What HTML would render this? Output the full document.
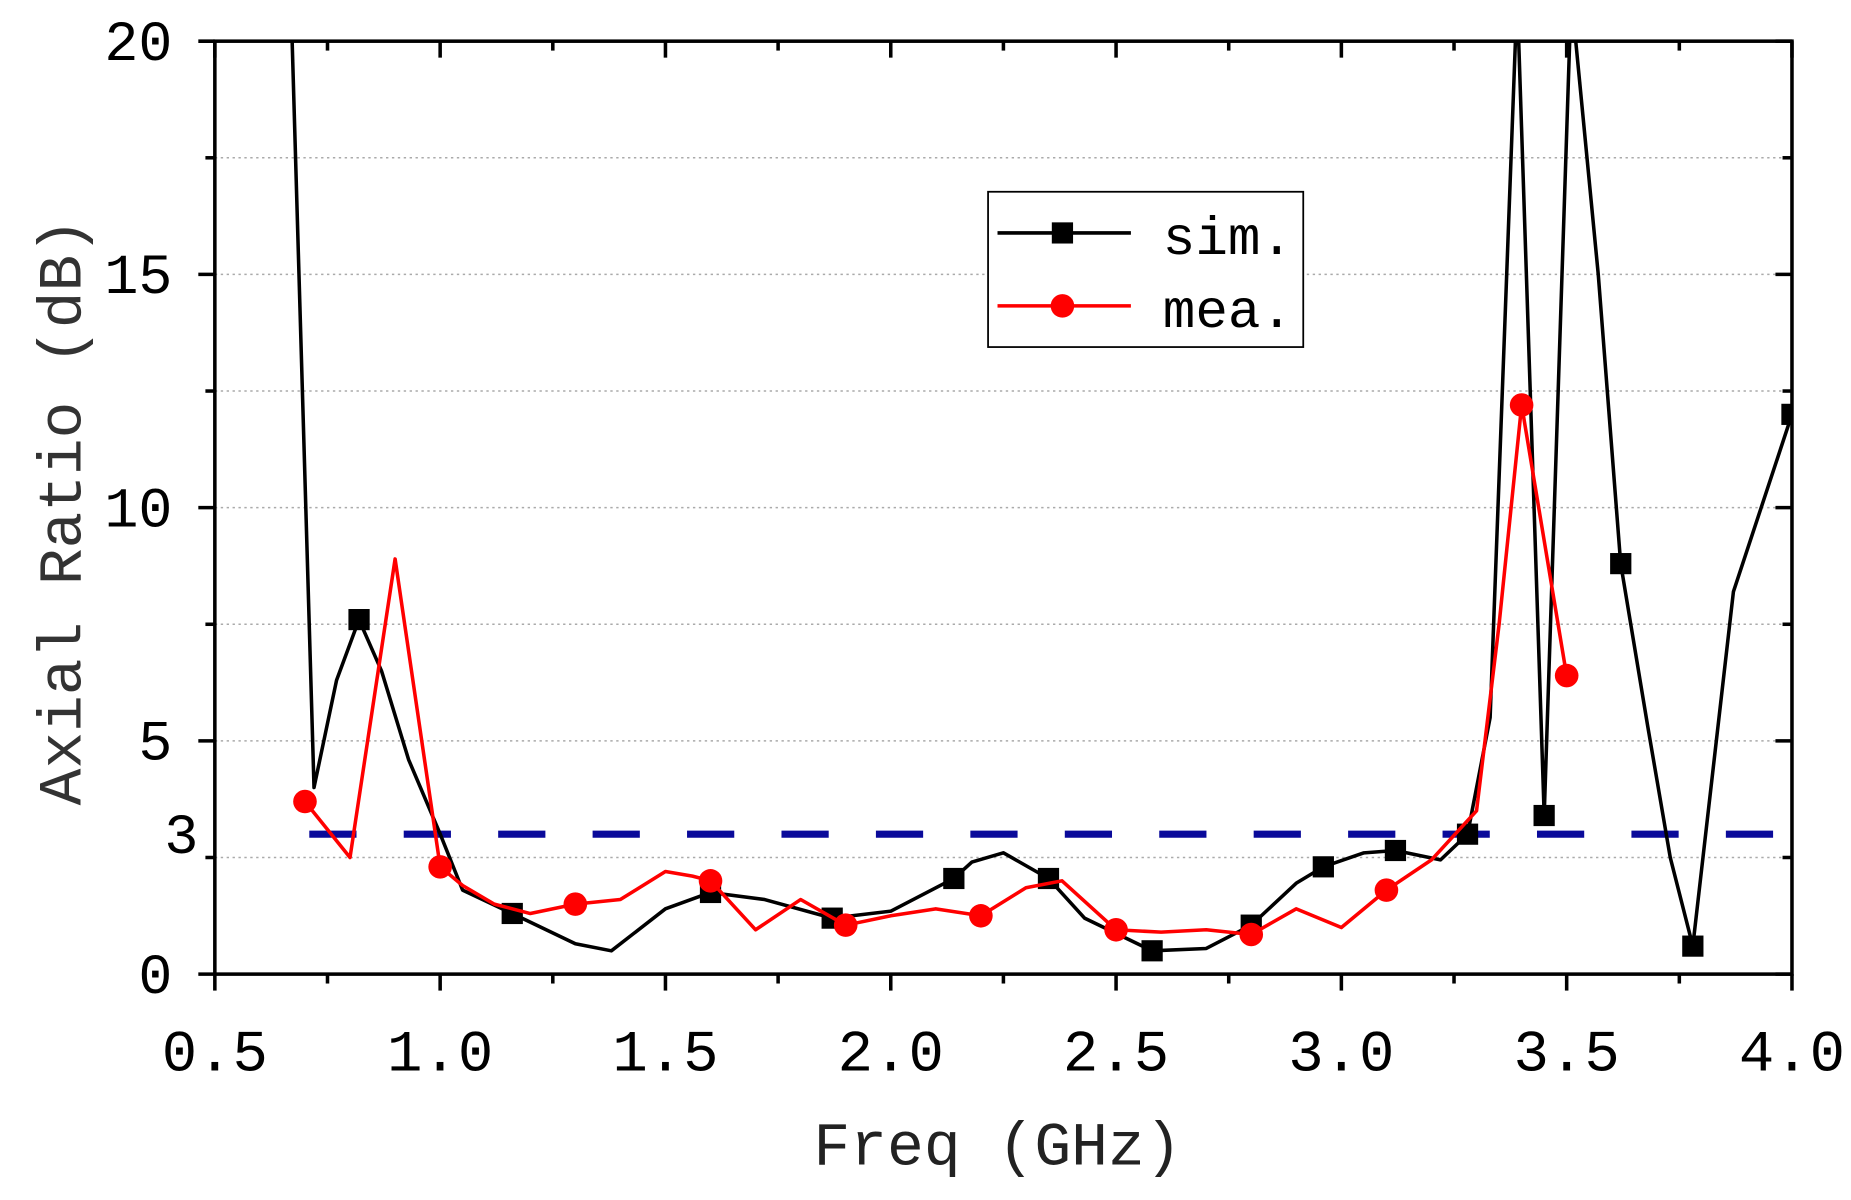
<!DOCTYPE html>
<html><head><meta charset="utf-8"><style>
html,body{margin:0;padding:0;background:#fff;}
svg{display:block;}
text{font-family:"Liberation Mono","Noto Sans CJK SC",monospace;}
</style></head><body>
<svg id="chart" width="1851" height="1200" viewBox="0 0 1568 1020" preserveAspectRatio="none" xmlns="http://www.w3.org/2000/svg">
<defs><clipPath id="plotclip"><rect x="182" y="35" width="1336" height="793"/></clipPath></defs>
<g id="grid"></g>
<g id="series" clip-path="url(#plotclip)"></g>
<g id="axes"></g>
<g id="legend">
  <rect x="837" y="163" width="267" height="132" fill="#fff" stroke="#000" stroke-width="1.5"/>
  <g>
    <line x1="845" y1="198" x2="958" y2="198" stroke="#000" stroke-width="3"/>
    <rect x="891" y="189" width="18" height="18" fill="#000"/>
    <text x="985" y="216" font-size="46" fill="#000">sim.</text>
  </g>
  <g>
    <line x1="845" y1="260" x2="958" y2="260" stroke="#f00" stroke-width="3"/>
    <circle cx="900" cy="260" r="10" fill="#f00"/>
    <text x="985" y="278" font-size="46" fill="#000">mea.</text>
  </g>
</g>
</svg>
<script>
const xTicks=[0.5,1.0,1.5,2.0,2.5,3.0,3.5,4.0];
const xTickLabels=["0.5","1.0","1.5","2.0","2.5","3.0","3.5","4.0"];
const yTicks=[0,5,10,15,20];
const yTickLabels=["0","5","10","15","20"];
const threshold=3;
const simX=[0.67,0.72,0.77,0.82,0.87,0.93,1.0,1.05,1.16,1.3,1.38,1.5,1.6,1.72,1.87,2.0,2.14,2.18,2.25,2.35,2.43,2.58,2.7,2.8,2.9,2.96,3.05,3.12,3.22,3.28,3.33,3.39,3.45,3.51,3.57,3.62,3.68,3.73,3.78,3.87,4.0];
const simY=[20.5,4.0,6.3,7.6,6.5,4.6,3.0,1.8,1.3,0.65,0.5,1.4,1.75,1.6,1.2,1.35,2.05,2.4,2.6,2.05,1.2,0.5,0.55,1.05,1.95,2.3,2.6,2.65,2.45,3.0,5.5,21,3.4,21,15,8.8,5.3,2.5,0.6,8.2,12.0];
const simMarker=[0,0,0,1,0,0,0,0,1,0,0,0,1,0,1,0,1,0,0,1,0,1,0,1,0,1,0,1,0,1,0,0,1,0,0,1,0,0,1,0,1];
const meaX=[0.7,0.8,0.9,1.0,1.05,1.12,1.2,1.3,1.4,1.5,1.56,1.6,1.7,1.8,1.9,2.0,2.1,2.2,2.3,2.38,2.5,2.6,2.7,2.8,2.9,3.0,3.1,3.2,3.3,3.35,3.4,3.5];
const meaY=[3.7,2.5,8.9,2.3,1.9,1.5,1.3,1.5,1.6,2.2,2.1,2.0,0.95,1.6,1.05,1.25,1.4,1.25,1.85,2.0,0.95,0.9,0.95,0.85,1.4,1.0,1.8,2.45,3.5,7.5,12.2,6.4];
const meaMarker=[1,0,0,1,0,0,0,1,0,0,0,1,0,0,1,0,0,1,0,0,1,0,0,1,0,0,1,0,0,0,1,1];

const NS="http://www.w3.org/2000/svg";
const L=182,R=1518,T=35,B=828;
const sx=v=>L+(v-0.5)/(4.0-0.5)*(R-L);
const sy=v=>B-(v/20)*(B-T);
function mk(tag,attrs,parent){const e=document.createElementNS(NS,tag);for(const k in attrs)e.setAttribute(k,attrs[k]);parent.appendChild(e);return e;}
const grid=document.getElementById('grid'),axes=document.getElementById('axes'),series=document.getElementById('series');
// grid
[2.5,5,7.5,10,12.5,15,17.5].forEach(v=>{
  const g=mk('line',{x1:L,x2:R,y1:sy(v),y2:sy(v),stroke:'#aaa','stroke-width':1.3,'stroke-dasharray':'2 3'},grid);
  
  
});
// threshold
const th=mk('line',{x1:222,x2:R-8,y1:sy(threshold),y2:sy(threshold),stroke:'#0a0a9a','stroke-width':6,'stroke-dasharray':'40 40','stroke-dashoffset':40},series);


// series lines
function drawSeries(xs,ys,ms,color,name,square){
  const p=xs.map((x,i)=>(i?'L':'M')+sx(x).toFixed(1)+' '+sy(ys[i]).toFixed(1)).join(' ');
  const path=mk('path',{d:p,fill:'none',stroke:color,'stroke-width':3,'stroke-linejoin':'round'},series);
  
  
  xs.forEach((x,i)=>{ if(!ms[i])return;
    let m;
    if(square){m=mk('rect',{x:sx(x)-9,y:sy(ys[i])-9,width:18,height:18,fill:color},series);}
    else{m=mk('circle',{cx:sx(x),cy:sy(ys[i]),r:10,fill:color},series);}
    
    
  });
}
drawSeries(simX,simY,simMarker,'#000','sim',true);
drawSeries(meaX,meaY,meaMarker,'#f00','mea',false);
// frame
const fr=mk('rect',{x:L,y:T,width:R-L,height:B-T,fill:'none',stroke:'#000','stroke-width':3},axes);


// x ticks
for(let v=0.5;v<=4.001;v+=0.25){
  const major=Math.abs(v*2-Math.round(v*2))<1e-6;
  const len=major?14:8;
  mk('line',{x1:sx(v),x2:sx(v),y1:B,y2:B+len,stroke:'#000','stroke-width':3},axes);
  mk('line',{x1:sx(v),x2:sx(v),y1:T,y2:T+len,stroke:'#000','stroke-width':3},axes);
}
xTicks.forEach((v,i)=>{
  const t=mk('text',{x:sx(v),y:910,'font-size':50,'text-anchor':'middle',fill:'#000'},axes);
  t.textContent=xTickLabels[i];
  
  
});
// y ticks
for(let v=0;v<=20.001;v+=2.5){
  const major=Math.abs(v/5-Math.round(v/5))<1e-6;
  const len=major?14:8;
  mk('line',{x1:L-len,x2:L,y1:sy(v),y2:sy(v),stroke:'#000','stroke-width':3},axes);
  mk('line',{x1:R-len,x2:R,y1:sy(v),y2:sy(v),stroke:'#000','stroke-width':3},axes);
}
yTicks.forEach((v,i)=>{
  const t=mk('text',{x:146,y:sy(v)+16,'font-size':48,'text-anchor':'end',fill:'#000'},axes);
  t.textContent=yTickLabels[i];
  
  
});
const t3=mk('text',{x:168,y:sy(threshold)+16,'font-size':48,'text-anchor':'end',fill:'#000'},axes);
t3.textContent='3';


// titles
const xt=mk('text',{x:845,y:990,'font-size':52,'text-anchor':'middle',fill:'#222'},axes);
xt.textContent='Freq (GHz)';


const yt=mk('text',{x:0,y:0,'font-size':52,'text-anchor':'middle',fill:'#333',transform:'translate(68,435) rotate(-90)'},axes);
yt.textContent='Axial Ratio (dB)';


</script>
</body></html>
